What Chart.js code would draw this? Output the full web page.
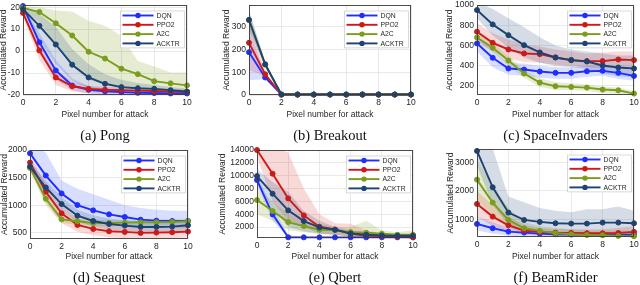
<!DOCTYPE html>
<html><head><meta charset="utf-8">
<script src="https://cdn.jsdelivr.net/npm/chart.js@4.4.1/dist/chart.umd.min.js"></script>
<style>
html,body{margin:0;padding:0;background:#fff;}
body{width:640px;height:285px;position:relative;overflow:hidden;}
canvas{position:absolute;}
.cap{position:absolute;font-family:"Liberation Serif","Times New Roman",serif;font-size:14.5px;color:#111;white-space:nowrap;transform:translate(-50%,-50%);line-height:1;}
</style></head><body>
<script>
// ---------- shared ----------
const pixels = [0,1,2,3,4,5,6,7,8,9,10];
const xTicks = [0,2,4,6,8,10];
const seriesNames = ['DQN','PPO2','A2C','ACKTR'];
const xTitle = 'Pixel number for attack';
const yTitle = 'Accumulated Reward';

// ---------- (a) Pong ----------
const pongTicks = [-20,-10,0,10,20];
const pongDQN     = [20.5, 4, -8.8, -15.7, -17.6, -18.3, -18.7, -19, -19.1, -19.3, -19.3];
const pongDQNLo   = [19.5, -1, -13, -18, -19.3, -19.7, -19.9, -20, -20, -20, -20];
const pongDQNHi   = [21, 8, -4, -12.5, -16, -17.2, -17.8, -18.2, -18.4, -18.6, -18.7];
const pongPPO2    = [17.4, 0.3, -12, -16, -17.2, -17.6, -17.8, -18, -18.2, -18.4, -18.6];
const pongPPO2Lo  = [15.5, -4, -15.5, -18.3, -19.2, -19.5, -19.6, -19.7, -19.8, -19.8, -19.8];
const pongPPO2Hi  = [19, 4, -8, -14, -15.8, -16.3, -16.5, -16.8, -17, -17.2, -17.5];
const pongA2C     = [19.7, 17.8, 12.7, 7.1, -0.3, -3.4, -8, -10.5, -13.7, -14.7, -15.6];
const pongA2CLo   = [19, 13, 3, -7, -13, -15.5, -16.5, -17, -17.5, -18, -18];
const pongA2CHi   = [20.5, 20, 18.5, 18, 13.7, 11.5, 7, -4.5, -7, -9.7, -9.7];
const pongACKTR   = [19.1, 11.5, 3, -6.2, -12, -14.9, -16.4, -16.9, -17.2, -17.8, -18.4];
const pongACKTRLo = [18, 5, -6, -13.5, -17, -18.2, -18.8, -19, -19.2, -19.3, -19.5];
const pongACKTRHi = [20.3, 17, 11, 1, -6, -10.5, -13, -14.5, -15.5, -16.3, -17];

// ---------- (b) Breakout ----------
const breakoutTicks = [0,100,200,300];
const breakoutDQN     = [188, 77, 2, 2, 2, 2, 2, 2, 2, 2, 2];
const breakoutDQNLo   = [65, 70, 0, 0, 0, 0, 0, 0, 0, 0, 0];
const breakoutDQNHi   = [300, 85, 3, 3, 3, 3, 3, 3, 3, 3, 3];
const breakoutPPO2    = [229, 91, 2, 2, 2, 2, 2, 2, 2, 2, 2];
const breakoutPPO2Lo  = [110, 82, 0, 0, 0, 0, 0, 0, 0, 0, 0];
const breakoutPPO2Hi  = [330, 100, 3, 3, 3, 3, 3, 3, 3, 3, 3];
const breakoutA2C     = [328, 133, 2, 2, 2, 2, 2, 2, 2, 2, 2];
const breakoutA2CLo   = [290, 122, 0, 0, 0, 0, 0, 0, 0, 0, 0];
const breakoutA2CHi   = [368, 146, 3, 3, 3, 3, 3, 3, 3, 3, 3];
const breakoutACKTR   = [330, 135, 2, 2, 2, 2, 2, 2, 2, 2, 2];
const breakoutACKTRLo = [292, 122, 0, 0, 0, 0, 0, 0, 0, 0, 0];
const breakoutACKTRHi = [370, 148, 3, 3, 3, 3, 3, 3, 3, 3, 3];

// ---------- (c) SpaceInvaders ----------
const spaceTicks = [200,400,600,800,1000];
const spaceDQN     = [620, 478, 372, 362, 342, 329, 329, 345, 349, 329, 299];
const spaceDQNLo   = [540, 385, 310, 300, 280, 270, 270, 290, 300, 270, 250];
const spaceDQNHi   = [690, 560, 430, 420, 400, 385, 385, 400, 400, 385, 350];
const spacePPO2    = [736, 626, 560, 521, 514, 481, 455, 445, 445, 461, 455];
const spacePPO2Lo  = [650, 540, 470, 440, 430, 410, 400, 385, 375, 385, 385];
const spacePPO2Hi  = [820, 720, 660, 610, 590, 560, 540, 520, 530, 540, 540];
const spaceA2C     = [679, 577, 451, 322, 233, 197, 190, 183, 164, 157, 124];
const spaceA2CLo   = [640, 540, 400, 280, 190, 160, 160, 150, 130, 120, 100];
const spaceA2CHi   = [720, 620, 500, 360, 275, 235, 225, 215, 195, 185, 150];
const spaceACKTR   = [950, 808, 702, 603, 531, 481, 455, 441, 402, 382, 372];
const spaceACKTRLo = [870, 700, 580, 480, 430, 400, 385, 370, 320, 295, 285];
const spaceACKTRHi = [1030, 960, 870, 780, 680, 600, 560, 540, 520, 500, 500];

// ---------- (d) Seaquest ----------
const seaTicks = [500,1000,1500,2000];
const seaDQN     = [1940, 1538, 1214, 1004, 908, 836, 788, 740, 722, 716, 716];
const seaDQNLo   = [1750, 1300, 1000, 800, 720, 680, 640, 600, 600, 590, 590];
const seaDQNHi   = [2150, 1950, 1450, 1300, 1200, 1100, 1000, 950, 920, 900, 900];
const seaPPO2    = [1772, 1244, 854, 644, 572, 530, 518, 500, 506, 512, 524];
const seaPPO2Lo  = [1650, 1050, 680, 520, 460, 420, 410, 400, 400, 400, 420];
const seaPPO2Hi  = [1850, 1400, 1000, 760, 680, 640, 620, 600, 600, 600, 620];
const seaA2C     = [1676, 1118, 746, 710, 680, 680, 686, 692, 692, 698, 710];
const seaA2CLo   = [1600, 1000, 680, 650, 620, 620, 630, 630, 630, 640, 650];
const seaA2CHi   = [1750, 1250, 820, 770, 740, 740, 740, 750, 750, 750, 760];
const seaACKTR   = [1700, 1322, 1022, 812, 716, 662, 632, 608, 608, 614, 638];
const seaACKTRLo = [1620, 1200, 880, 700, 610, 560, 540, 510, 510, 520, 540];
const seaACKTRHi = [1780, 1450, 1150, 920, 820, 760, 730, 710, 710, 710, 740];

// ---------- (e) Qbert ----------
const qbertTicks = [2000,4000,6000,8000,10000,12000,14000];
const qbertDQN     = [9325, 3974, 400, 400, 400, 400, 400, 400, 400, 400, 400];
const qbertDQNLo   = [8500, 3000, 350, 350, 350, 350, 350, 350, 350, 350, 350];
const qbertDQNHi   = [10000, 5000, 800, 450, 450, 450, 450, 450, 450, 450, 450];
const qbertPPO2    = [14000, 10311, 6467, 3818, 2052, 1636, 960, 700, 600, 500, 400];
const qbertPPO2Lo  = [13000, 6000, 3000, 2000, 1000, 800, 500, 400, 400, 350, 350];
const qbertPPO2Hi  = [14500, 14500, 13600, 8000, 4000, 2600, 2500, 1500, 1000, 800, 600];
const qbertA2C     = [6208, 4493, 2779, 2155, 1584, 1532, 1220, 1116, 960, 805, 805];
const qbertA2CLo   = [4000, 3000, 1500, 1200, 900, 800, 600, 500, 500, 400, 400];
const qbertA2CHi   = [8000, 6000, 4000, 3000, 2500, 2000, 2000, 3000, 1500, 1200, 1500];
const qbertACKTR   = [9948, 7194, 4597, 2935, 1948, 1584, 1012, 805, 700, 650, 650];
const qbertACKTRLo = [9000, 5000, 2000, 1300, 1000, 800, 500, 400, 400, 400, 400];
const qbertACKTRHi = [11000, 9000, 7500, 4500, 3000, 2000, 1500, 1200, 1000, 900, 900];

// ---------- (f) BeamRider ----------
const beamTicks = [1000,2000,3000];
const beamDQN     = [836, 683, 565, 530, 495, 471, 460, 460, 448, 448, 448];
const beamDQNLo   = [600, 500, 420, 400, 390, 390, 390, 390, 390, 390, 390];
const beamDQNHi   = [1100, 900, 700, 650, 600, 560, 550, 550, 550, 550, 550];
const beamPPO2    = [1542, 1095, 789, 601, 554, 530, 519, 507, 507, 519, 554];
const beamPPO2Lo  = [1100, 750, 550, 450, 420, 420, 400, 400, 400, 400, 400];
const beamPPO2Hi  = [2000, 1500, 1100, 800, 700, 650, 650, 650, 650, 700, 750];
const beamA2C     = [2400, 1589, 977, 683, 589, 507, 471, 448, 436, 413, 401];
const beamA2CLo   = [1700, 1100, 700, 500, 450, 400, 380, 380, 380, 380, 380];
const beamA2CHi   = [3100, 2200, 1400, 900, 750, 700, 650, 600, 600, 600, 600];
const beamACKTR   = [3412, 2130, 1236, 977, 907, 860, 848, 848, 883, 883, 860];
const beamACKTRLo = [2900, 1500, 800, 650, 550, 500, 500, 450, 450, 450, 450];
const beamACKTRHi = [3600, 3500, 1800, 1600, 1400, 1300, 1250, 1350, 1350, 1450, 1300];

// ---------- styles ----------
const lineColors = ['#1f2eff', '#cc1a1a', '#7b9c1c', '#1d4372'];
const bandColors = ['rgba(40,70,255,0.18)', 'rgba(220,40,40,0.18)', 'rgba(130,160,30,0.2)', 'rgba(30,70,120,0.19)'];
const FONT = '"Liberation Sans", Arial, Helvetica, sans-serif';
const TXT = '#262626';

const panels = [
  {cap:'(a) Pong', x:0, y:0, w:213, h:142, pl:23, pt:2, pr:187, pb:95, ytx:4, xty:115, capY:135,
   ymin:-20, ymax:21, ticks:pongTicks,
   s:[[pongDQN,pongDQNLo,pongDQNHi],[pongPPO2,pongPPO2Lo,pongPPO2Hi],[pongA2C,pongA2CLo,pongA2CHi],[pongACKTR,pongACKTRLo,pongACKTRHi]]},
  {cap:'(b) Breakout', x:213, y:0, w:213, h:142, pl:249, pt:4, pr:411, pb:95, ytx:226.5, xty:115, capY:135,
   ymin:0, ymax:395, ticks:breakoutTicks,
   s:[[breakoutDQN,breakoutDQNLo,breakoutDQNHi],[breakoutPPO2,breakoutPPO2Lo,breakoutPPO2Hi],[breakoutA2C,breakoutA2CLo,breakoutA2CHi],[breakoutACKTR,breakoutACKTRLo,breakoutACKTRHi]]},
  {cap:'(c) SpaceInvaders', x:426, y:0, w:214, h:142, pl:477, pt:5, pr:634, pb:95, ytx:450, xty:115, capY:135,
   ymin:110, ymax:1000, ticks:spaceTicks,
   s:[[spaceDQN,spaceDQNLo,spaceDQNHi],[spacePPO2,spacePPO2Lo,spacePPO2Hi],[spaceA2C,spaceA2CLo,spaceA2CHi],[spaceACKTR,spaceACKTRLo,spaceACKTRHi]]},
  {cap:'(d) Seaquest', x:0, y:142, w:213, h:143, pl:30, pt:150, pr:188, pb:239, ytx:5, xty:257, capY:277,
   ymin:390, ymax:2000, ticks:seaTicks,
   s:[[seaDQN,seaDQNLo,seaDQNHi],[seaPPO2,seaPPO2Lo,seaPPO2Hi],[seaA2C,seaA2CLo,seaA2CHi],[seaACKTR,seaACKTRLo,seaACKTRHi]]},
  {cap:'(e) Qbert', x:213, y:142, w:213, h:143, pl:257, pt:150, pr:413, pb:238, ytx:223, xty:257, capY:277,
   ymin:300, ymax:14000, ticks:qbertTicks,
   s:[[qbertDQN,qbertDQNLo,qbertDQNHi],[qbertPPO2,qbertPPO2Lo,qbertPPO2Hi],[qbertA2C,qbertA2CLo,qbertA2CHi],[qbertACKTR,qbertACKTRLo,qbertACKTRHi]]},
  {cap:'(f) BeamRider', x:426, y:142, w:214, h:143, pl:477, pt:149, pr:634, pb:237, ytx:451, xty:257, capY:277,
   ymin:375, ymax:3480, ticks:beamTicks,
   s:[[beamDQN,beamDQNLo,beamDQNHi],[beamPPO2,beamPPO2Lo,beamPPO2Hi],[beamA2C,beamA2CLo,beamA2CHi],[beamACKTR,beamACKTRLo,beamACKTRHi]]}
];

const pts = arr => arr.map((v,i) => ({x: pixels[i], y: v}));

const boxPlugin = {
  id: 'box',
  afterDatasetsDraw(chart) {
    const a = chart.chartArea, c = chart.ctx;
    c.save();
    c.strokeStyle = '#3a3a3a'; c.lineWidth = 0.9;
    c.strokeRect(Math.round(a.left) + 0.5, Math.round(a.top) + 0.5, Math.round(a.right - a.left) - 1, Math.round(a.bottom - a.top) - 1);
    c.restore();
  }
};

const legendPlugin = {
  id: 'insideLegend',
  afterDraw(chart) {
    const a = chart.chartArea, c = chart.ctx;
    const mains = chart.data.datasets.filter(d => d.isMain);
    const x0 = a.right - 67, top = a.top + 5.5, rowH = 9.3;
    c.save();
    c.fillStyle = '#ffffff';
    c.fillRect(x0, top, 65, 10 + rowH * (mains.length - 1));
    c.strokeStyle = 'rgba(0,0,0,0.22)'; c.lineWidth = 0.7;
    c.strokeRect(x0 + 0.5, top + 0.5, 64, 9 + rowH * (mains.length - 1));
    mains.forEach((d, i) => {
      const y = top + 5 + i * rowH;
      c.strokeStyle = d.borderColor; c.lineWidth = 1.9;
      c.beginPath(); c.moveTo(x0 + 2.5, y); c.lineTo(x0 + 33.5, y); c.stroke();
      c.fillStyle = d.borderColor;
      c.beginPath(); c.arc(x0 + 18, y, 2.7, 0, Math.PI * 2); c.fill();
      c.fillStyle = TXT; c.font = '6.8px ' + FONT; c.textBaseline = 'middle'; c.textAlign = 'left';
      c.fillText(d.label, x0 + 36.5, y + 0.3);
    });
    c.restore();
  }
};

function zeroPad(s) { s.paddingLeft = 0; s.paddingRight = 0; s.paddingTop = 0; s.paddingBottom = 0; }

panels.forEach(p => {
  const cv = document.createElement('canvas');
  cv.width = p.w; cv.height = p.h;
  cv.style.left = p.x + 'px'; cv.style.top = p.y + 'px';
  cv.style.width = p.w + 'px'; cv.style.height = p.h + 'px';
  document.body.appendChild(cv);

  const titleSize = 8.5, lh = titleSize * 1.2;
  const padL = p.ytx - p.x - lh / 2;
  const padT = p.pt - p.y;
  const padR = p.x + p.w - p.pr;
  const xBottom = p.xty + lh / 2;
  const padB = p.y + p.h - xBottom;
  const yW = p.pl - p.x - padL;
  const xH = xBottom - p.pb;

  const datasets = [];
  p.s.forEach((trip, i) => {
    const [mean, lo, hi] = trip;
    datasets.push({label: seriesNames[i] + ' hi', data: pts(hi), borderWidth: 0, pointRadius: 0, fill: false,
                   borderColor: 'rgba(0,0,0,0)', order: 20 - i});
    datasets.push({label: seriesNames[i] + ' lo', data: pts(lo), borderWidth: 0, pointRadius: 0, fill: '-1',
                   borderColor: 'rgba(0,0,0,0)', backgroundColor: bandColors[i], order: 20 - i});
  });
  p.s.forEach((trip, i) => {
    datasets.push({label: seriesNames[i], isMain: true, data: pts(trip[0]), borderColor: lineColors[i],
                   backgroundColor: lineColors[i], borderWidth: 1.9, pointRadius: 2.5, pointBorderWidth: 1,
                   pointBackgroundColor: lineColors[i], pointBorderColor: lineColors[i], fill: false,
                   tension: 0, clip: false, order: 5 - i});
  });

  new Chart(cv, {
    type: 'line',
    data: {datasets},
    options: {
      responsive: false, animation: false, events: [],
      layout: {padding: {left: padL, top: padT, right: padR, bottom: padB}},
      plugins: {legend: {display: false}, tooltip: {enabled: false}, filler: {propagate: false}},
      scales: {
        x: {
          type: 'linear', min: 0, max: 10,
          afterBuildTicks: s => { s.ticks = xTicks.map(v => ({value: v})); },
          afterFit: s => { s.height = xH; zeroPad(s); },
          grid: {color: '#e3e3e3', lineWidth: 0.8, drawTicks: false},
          border: {display: false},
          ticks: {font: {family: FONT, size: 8.5}, color: TXT, padding: 3, maxRotation: 0, autoSkip: false,
                  callback: v => String(v)},
          title: {display: true, text: xTitle, font: {family: FONT, size: titleSize}, color: TXT, padding: 0}
        },
        y: {
          type: 'linear', min: p.ymin, max: p.ymax,
          afterBuildTicks: s => { s.ticks = p.ticks.map(v => ({value: v})); },
          afterFit: s => { s.width = yW; zeroPad(s); },
          grid: {color: '#e3e3e3', lineWidth: 0.8, drawTicks: false},
          border: {display: false},
          ticks: {font: {family: FONT, size: 8.5}, color: TXT, padding: 3, autoSkip: false,
                  callback: v => String(v)},
          title: {display: true, text: yTitle, font: {family: FONT, size: titleSize}, color: TXT, padding: 0}
        }
      }
    },
    plugins: [boxPlugin, legendPlugin]
  });

  const cap = document.createElement('div');
  cap.className = 'cap';
  cap.textContent = p.cap;
  cap.style.left = ((p.pl + p.pr) / 2) + 'px';
  cap.style.top = p.capY + 'px';
  document.body.appendChild(cap);
});
</script>
</body></html>
